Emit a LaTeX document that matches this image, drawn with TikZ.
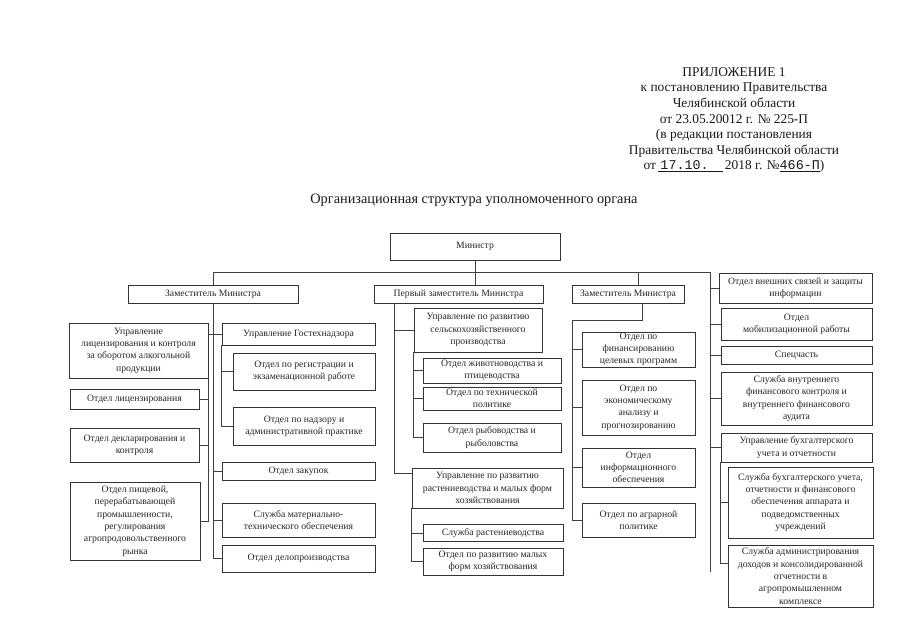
\documentclass[tikz,border=0pt]{standalone}
\usepackage{fontspec}
\setmainfont{Liberation Serif}
\setmonofont{Liberation Mono}
\begin{document}
\begin{tikzpicture}[x=1pt,y=-1pt,
  box/.style={draw=black!80, line width=0.6pt, align=center, inner sep=1pt,
    font=\fontsize{9.7}{12.3}\selectfont, text=black!85},
  ln/.style={draw=black!75, line width=0.6pt},
  hdr/.style={align=center, font=\fontsize{13.4}{15.6}\selectfont, text=black!90}]
\useasboundingbox[fill=white] (0,0) rectangle (905,640);

% header
\node[hdr] (hdr) at (734,120) {ПРИЛОЖЕНИЕ 1\\
к постановлению Правительства\\
Челябинской области\\
от 23.05.20012 г. № 225-П\\
(в редакции постановления\\
Правительства Челябинской области\\
от\,\underline{\,\texttt{17.10.}\hspace{14pt}}\,2018 г. №\underline{\texttt{466-П}})};
\node[hdr, font=\fontsize{14.3}{16}\selectfont] (title) at (474,200) {Организационная структура уполномоченного органа};

% top level
\node[box, minimum width=170pt, minimum height=27pt] (Min) at (475,246.5) {Министр};
\node[box, minimum width=170pt, minimum height=18pt] (D1) at (213,294) {Заместитель Министра};
\node[box, minimum width=169pt, minimum height=18pt] (D2) at (458.5,294) {Первый заместитель Министра};
\node[box, minimum width=112pt, minimum height=18pt] (D3) at (628,294) {Заместитель Министра};

% left column
\node[box, minimum width=139pt, minimum height=55pt] (L1) at (138.5,350.5) {Управление\\лицензирования и контроля\\за оборотом алкогольной\\продукции};
\node[box, minimum width=129pt, minimum height=20pt] (L2) at (134.5,399) {Отдел лицензирования};
\node[box, minimum width=129pt, minimum height=34pt] (L3) at (134.5,445) {Отдел декларирования и\\контроля};
\node[box, minimum width=130pt, minimum height=78pt] (L4) at (135,521) {Отдел пищевой,\\перерабатывающей\\промышленности,\\регулирования\\агропродовольственного\\рынка};

\node[box, minimum width=153pt, minimum height=22pt] (M1) at (298.5,334) {Управление Гостехнадзора};
\node[box, minimum width=142pt, minimum height=37pt] (M1a) at (304,371.5) {Отдел по регистрации и\\экзаменационной работе};
\node[box, minimum width=142pt, minimum height=38pt] (M1b) at (304,426) {Отдел по надзору и\\административной практике};
\node[box, minimum width=153pt, minimum height=18pt] (M2) at (298.5,471) {Отдел закупок};
\node[box, minimum width=153pt, minimum height=34pt] (M3) at (298.5,520) {Служба материально-\\технического обеспечения};
\node[box, minimum width=153pt, minimum height=27pt] (M4) at (298.5,558.5) {Отдел делопроизводства};

% first deputy column
\node[box, minimum width=128pt, minimum height=44pt] (F1) at (478,330) {Управление по развитию\\сельскохозяйственного\\производства};
\node[box, minimum width=138pt, minimum height=25pt] (F1a) at (492,370.5) {Отдел животноводства и\\птицеводства};
\node[box, minimum width=138pt, minimum height=23pt] (F1b) at (492,398.5) {Отдел по технической\\политике};
\node[box, minimum width=138pt, minimum height=29pt] (F1c) at (492,437.5) {Отдел рыбоводства и\\рыболовства};
\node[box, minimum width=151pt, minimum height=40pt] (F2) at (487.5,488) {Управление по развитию\\растениеводства и малых форм\\хозяйствования};
\node[box, minimum width=140pt, minimum height=17pt] (F2a) at (493,533) {Служба растениеводства};
\node[box, minimum width=140pt, minimum height=27pt] (F2b) at (493,561.5) {Отдел по развитию малых\\форм хозяйствования};

% second deputy column
\node[box, minimum width=113pt, minimum height=35pt] (S1) at (638.5,349.5) {Отдел по\\финансированию\\целевых программ};
\node[box, minimum width=113pt, minimum height=55pt] (S2) at (638.5,407.5) {Отдел по\\экономическому\\анализу и\\прогнозированию};
\node[box, minimum width=113pt, minimum height=39pt] (S3) at (638.5,467.5) {Отдел\\информационного\\обеспечения};
\node[box, minimum width=113pt, minimum height=34pt] (S4) at (638.5,520) {Отдел по аграрной\\политике};

% right column
\node[box, minimum width=153pt, minimum height=30pt] (R1) at (795.5,288) {Отдел внешних связей и защиты\\информации};
\node[box, minimum width=151pt, minimum height=32pt] (R2) at (796.5,324) {Отдел\\мобилизационной работы};
\node[box, minimum width=151pt, minimum height=18pt] (R3) at (796.5,355) {Спецчасть};
\node[box, minimum width=151pt, minimum height=53pt] (R4) at (796.5,398.5) {Служба внутреннего\\финансового контроля и\\внутреннего финансового\\аудита};
\node[box, minimum width=151pt, minimum height=29pt] (R5) at (796.5,447.5) {Управление бухгалтерского\\учета и отчетности};
\node[box, minimum width=145pt, minimum height=71pt] (R6) at (800.5,502.5) {Служба бухгалтерского учета,\\отчетности и финансового\\обеспечения аппарата и\\подведомственных\\учреждений};
\node[box, minimum width=145pt, minimum height=62pt] (R7) at (800.5,576) {Служба администрирования\\доходов и консолидированной\\отчетности в\\агропромышленном\\комплексе};

% connectors: top bus
\coordinate (top) at (475,272);
\coordinate (rt) at (710,272);
\coordinate (rb) at (710,572);
\draw[ln] (Min.south) -- (Min.south |- D2.north);
\draw[ln] (D1.north) -- (D1.north |- top) -- (rt) -- (rb);
\draw[ln] ([xshift=10pt]D3.north) -- ([xshift=10pt]D3.north |- top);

% left deputy
\draw[ln] (D1.south) -- (D1.south |- M4.west) -- (M4.west);
\draw[ln] (L1.east |- M1.west) -- (M1.west);
\draw[ln] (D1.south |- M2.west) -- (M2.west);
\draw[ln] (D1.south |- M3.west) -- (M3.west);
\draw[ln] (L1.south east) -- (L1.south east |- L4.east) -- (L4.east);
\draw[ln] (L1.south east |- L2.east) -- (L2.east);
\draw[ln] (L1.south east |- L3.east) -- (L3.east);
\draw[ln] (M1.south west) -- (M1.south west |- M1b.west) -- (M1b.west);
\draw[ln] (M1.south west |- M1a.west) -- (M1a.west);

% first deputy
\coordinate (fs) at ([xshift=21pt]D2.south west);
\coordinate (f2s) at ([yshift=15pt]F2.west);
\draw[ln] (fs) -- (fs |- f2s) -- (f2s);
\draw[ln] (fs |- F1.west) -- (F1.west);
\draw[ln] (F1.south west) -- (F1.south west |- F1c.west) -- (F1c.west);
\draw[ln] (F1.south west |- F1a.west) -- (F1a.west);
\draw[ln] (F1.south west |- F1b.west) -- (F1b.west);
\draw[ln] (F2.south west) -- (F2.south west |- F2b.west) -- (F2b.west);
\draw[ln] (F2.south west |- F2a.west) -- (F2a.west);

% second deputy
\coordinate (sk) at (572,320);
\draw[ln] ([xshift=14pt]D3.south) |- (sk) -- (sk |- S4.west) -- (S4.west);
\draw[ln] (sk |- S1.west) -- (S1.west);
\draw[ln] (sk |- S2.west) -- (S2.west);
\draw[ln] (sk |- S3.west) -- (S3.west);

% right column
\draw[ln] (rt |- R1.west) -- (R1.west);
\draw[ln] (rt |- R2.west) -- (R2.west);
\draw[ln] (rt |- R3.west) -- (R3.west);
\draw[ln] (rt |- R4.west) -- (R4.west);
\draw[ln] (rt |- R5.west) -- (R5.west);
\coordinate (r7s) at ([yshift=13pt]R7.west);
\draw[ln] (R5.south west) -- (R5.south west |- r7s) -- (r7s);
\draw[ln] (R5.south west |- R6.west) -- (R6.west);
\end{tikzpicture}
\end{document}
